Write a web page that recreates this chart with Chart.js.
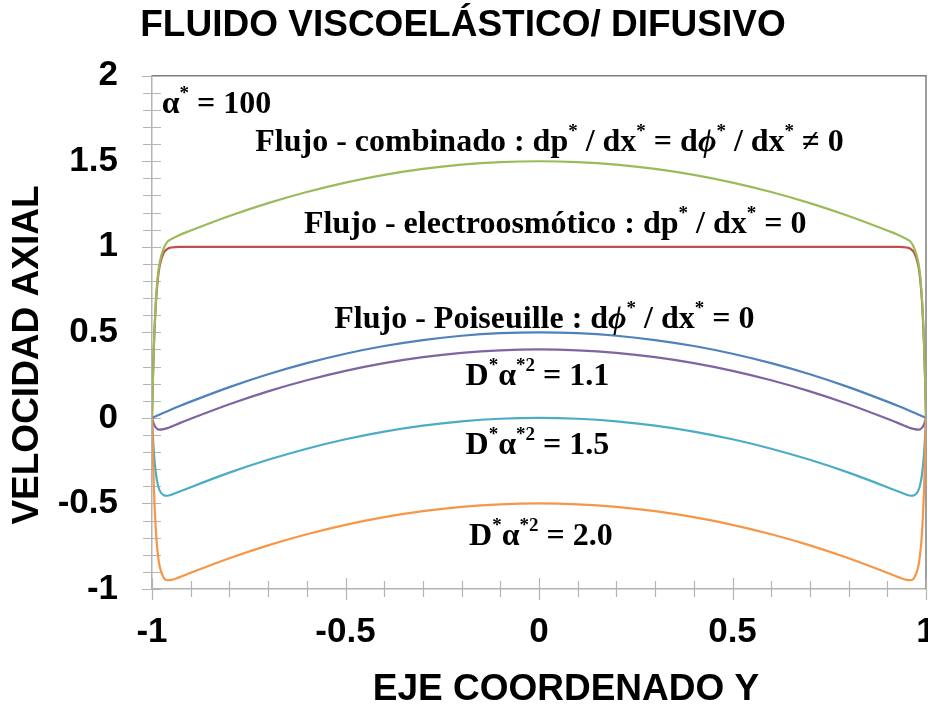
<!DOCTYPE html>
<html>
<head>
<meta charset="utf-8">
<script src="https://cdn.jsdelivr.net/npm/chart.js@4.4.1/dist/chart.umd.min.js"></script>
<style>
  html, body { margin: 0; padding: 0; background: #fff; }
</style>
</head>
<body>
<canvas id="chart" width="928" height="711"></canvas>
<script>
// eje coordenado Y (posiciones)
const yCoord = [-1, -0.9975, -0.995, -0.99, -0.985, -0.98, -0.97, -0.96, -0.95, -0.93,
  -0.9, -0.8, -0.7, -0.6, -0.5, -0.4, -0.3, -0.2, -0.1, 0, 0.1, 0.2, 0.3, 0.4, 0.5, 0.6, 0.7, 0.8, 0.9,
  0.93, 0.95, 0.96, 0.97, 0.98, 0.985, 0.99, 0.995, 0.9975, 1];

const poiseuille = [0, 0.0025, 0.005, 0.01, 0.015, 0.02, 0.03, 0.039, 0.049, 0.068,
  0.095, 0.18, 0.255, 0.32, 0.375, 0.42, 0.455, 0.48, 0.495, 0.5, 0.495, 0.48, 0.455, 0.42, 0.375, 0.32, 0.255, 0.18, 0.095,
  0.068, 0.049, 0.039, 0.03, 0.02, 0.015, 0.01, 0.005, 0.0025, 0];

const electroosmotico = [0, 0.24, 0.42, 0.67, 0.81, 0.89, 0.963, 0.988, 0.996, 1,
  1, 1, 1, 1, 1, 1, 1, 1, 1, 1, 1, 1, 1, 1, 1, 1, 1, 1, 1,
  1, 0.996, 0.988, 0.963, 0.89, 0.81, 0.67, 0.42, 0.24, 0];

const combinado = [0, 0.24, 0.43, 0.68, 0.83, 0.91, 0.99, 1.03, 1.045, 1.068,
  1.095, 1.18, 1.255, 1.32, 1.375, 1.42, 1.455, 1.48, 1.495, 1.5, 1.495, 1.48, 1.455, 1.42, 1.375, 1.32, 1.255, 1.18, 1.095,
  1.068, 1.045, 1.03, 0.99, 0.91, 0.83, 0.68, 0.43, 0.24, 0];

const difusivo11 = [0, -0.02, -0.037, -0.057, -0.066, -0.069, -0.066, -0.06, -0.051, -0.032,
  -0.005, 0.08, 0.155, 0.22, 0.275, 0.32, 0.355, 0.38, 0.395, 0.4, 0.395, 0.38, 0.355, 0.32, 0.275, 0.22, 0.155, 0.08, -0.005,
  -0.032, -0.051, -0.06, -0.066, -0.069, -0.066, -0.057, -0.037, -0.02, 0];

const difusivo15 = [0, -0.115, -0.205, -0.325, -0.39, -0.425, -0.452, -0.455, -0.449, -0.432,
  -0.405, -0.32, -0.245, -0.18, -0.125, -0.08, -0.045, -0.02, -0.005, 0, -0.005, -0.02, -0.045, -0.08, -0.125, -0.18, -0.245, -0.32, -0.405,
  -0.432, -0.449, -0.455, -0.452, -0.425, -0.39, -0.325, -0.205, -0.115, 0];

const difusivo20 = [0, -0.235, -0.415, -0.66, -0.795, -0.87, -0.933, -0.949, -0.947, -0.932,
  -0.905, -0.82, -0.745, -0.68, -0.625, -0.58, -0.545, -0.52, -0.505, -0.5, -0.505, -0.52, -0.545, -0.58, -0.625, -0.68, -0.745, -0.82, -0.905,
  -0.932, -0.947, -0.949, -0.933, -0.87, -0.795, -0.66, -0.415, -0.235, 0];

const seriesNames = ['Flujo - Poiseuille', 'Flujo - electroosmótico', 'Flujo - combinado',
  'D*α*2 = 1.1', 'D*α*2 = 1.5', 'D*α*2 = 2.0'];
const seriesValues = [poiseuille, electroosmotico, combinado, difusivo11, difusivo15, difusivo20];
const seriesColors = ['#4F81BD', '#C0504D', '#9BBB59', '#8064A2', '#4BACC6', '#F79646'];

const titleText = 'FLUIDO VISCOELÁSTICO/ DIFUSIVO';
const xAxisTitle = 'EJE COORDENADO Y';
const yAxisTitle = 'VELOCIDAD AXIAL';

// rótulos dentro del gráfico: [texto, estilo]
const notes = [
  { x: -0.975, y: 1.78, align: 'left', parts: [['α'], ['*', 'sup'], [' = 100']] },
  { x: 0.027, y: 1.56, parts: [['Flujo - combinado : dp'], ['*', 'sup'], [' / dx'], ['*', 'sup'], [' = d'], ['ϕ', 'it'], ['*', 'sup'], [' / dx'], ['*', 'sup'], [' ≠ 0']] },
  { x: 0.042, y: 1.08, parts: [['Flujo - electroosmótico : dp'], ['*', 'sup'], [' / dx'], ['*', 'sup'], [' = 0']] },
  { x: 0.014, y: 0.526, parts: [['Flujo - Poiseuille : d'], ['ϕ', 'it'], ['*', 'sup'], [' / dx'], ['*', 'sup'], [' = 0']] },
  { x: -0.004, y: 0.193, parts: [['D'], ['*', 'sup'], ['α'], ['*2', 'sup'], [' = 1.1']] },
  { x: -0.004, y: -0.21, parts: [['D'], ['*', 'sup'], ['α'], ['*2', 'sup'], [' = 1.5']] },
  { x: 0.005, y: -0.74, parts: [['D'], ['*', 'sup'], ['α'], ['*2', 'sup'], [' = 2.0']] }
];

const sansBold = 'bold 37px "Liberation Sans", Arial, sans-serif';
const serif = '"Liberation Serif", "Times New Roman", serif';

const axisDecor = {
  id: 'axisDecor',
  beforeDatasetsDraw(chart) {
    const { ctx, chartArea: a, scales: { x, y } } = chart;
    ctx.save();
    // marco superior y derecho
    ctx.strokeStyle = '#7f7f7f';
    ctx.lineWidth = 1.5;
    ctx.beginPath();
    ctx.moveTo(a.left, a.top);
    ctx.lineTo(a.right, a.top);
    ctx.lineTo(a.right, a.bottom);
    ctx.stroke();
    // marcas que cruzan los ejes
    ctx.strokeStyle = '#b4b4b4';
    ctx.lineWidth = 1.2;
    ctx.beginPath();
    for (let i = -10; i <= 10; i++) {
      const px = Math.round(x.getPixelForValue(i / 10)) + 0.5;
      const major = i % 5 === 0;
      ctx.moveTo(px, a.bottom - (major ? 11 : 8));
      ctx.lineTo(px, a.bottom + (major ? 11 : 8));
    }
    for (let i = -10; i <= 20; i++) {
      const py = Math.round(y.getPixelForValue(i / 10)) + 0.5;
      const major = i % 5 === 0;
      ctx.moveTo(a.left - (major ? 10 : 9), py);
      ctx.lineTo(a.left + 9, py);
    }
    ctx.stroke();
    // títulos de ejes
    ctx.fillStyle = '#000';
    ctx.font = sansBold;
    ctx.textAlign = 'center';
    ctx.textBaseline = 'middle';
    ctx.fillText(xAxisTitle, 566, 690);
    ctx.translate(28, 355);
    ctx.rotate(-Math.PI / 2);
    ctx.fillText(yAxisTitle, 0, 0);
    ctx.restore();
  },
  afterDatasetsDraw(chart) {
    const { ctx, scales: { x, y } } = chart;
    ctx.save();
    ctx.fillStyle = '#000';
    ctx.textBaseline = 'alphabetic';
    ctx.textAlign = 'left';
    const fontFor = s => s === 'sup' ? 'bold 19px ' + serif : s === 'it' ? 'italic bold 32px ' + serif : 'bold 32px ' + serif;
    notes.forEach(n => {
      let w = 0;
      n.parts.forEach(([t, s]) => { ctx.font = fontFor(s); w += ctx.measureText(t).width; });
      let px = x.getPixelForValue(n.x);
      if (n.align !== 'left') px -= w / 2;
      const py = y.getPixelForValue(n.y);
      n.parts.forEach(([t, s]) => {
        ctx.font = fontFor(s);
        ctx.fillText(t, px, s === 'sup' ? py - 14 : py);
        px += ctx.measureText(t).width;
      });
    });
    ctx.restore();
  }
};

const tickFont = { family: '"Liberation Sans", Arial, sans-serif', size: 35, weight: 'bold' };
const tickLabel = v => String(v);

new Chart(document.getElementById('chart'), {
  type: 'line',
  data: {
    datasets: seriesValues.map((vals, i) => ({
      label: seriesNames[i],
      data: yCoord.map((yc, j) => ({ x: yc, y: vals[j] })),
      borderColor: seriesColors[i],
      backgroundColor: seriesColors[i],
      borderWidth: 2.2,
      pointRadius: 0,
      cubicInterpolationMode: 'monotone',
      fill: false,
      order: seriesValues.length - i
    }))
  },
  options: {
    responsive: false,
    animation: false,
    devicePixelRatio: 1,
    layout: { padding: { left: 0, right: 2, top: 0, bottom: 0 } },
    plugins: {
      legend: { display: false },
      tooltip: { enabled: false },
      title: {
        display: true,
        text: titleText,
        color: '#000',
        font: { family: '"Liberation Sans", Arial, sans-serif', size: 37, weight: 'bold' },
        padding: { top: 4, bottom: 27.3 }
      }
    },
    scales: {
      x: {
        type: 'linear',
        min: -1,
        max: 1,
        ticks: { stepSize: 0.5, color: '#000', font: tickFont, padding: 22, maxRotation: 0, autoSkip: false, callback: tickLabel },
        grid: { display: false, drawTicks: false },
        border: { display: true, color: '#b4b4b4', width: 1.5 },
        afterFit: s => { s.height = 122; s.paddingLeft = 0; s.paddingRight = 0; }
      },
      y: {
        type: 'linear',
        min: -1,
        max: 2,
        ticks: { stepSize: 0.5, color: '#000', font: tickFont, padding: 34, autoSkip: false, callback: tickLabel },
        grid: { display: false, drawTicks: false },
        border: { display: true, color: '#b4b4b4', width: 1.5 },
        afterFit: s => { s.width = 152; }
      }
    }
  },
  plugins: [axisDecor]
});
</script>
</body>
</html>
